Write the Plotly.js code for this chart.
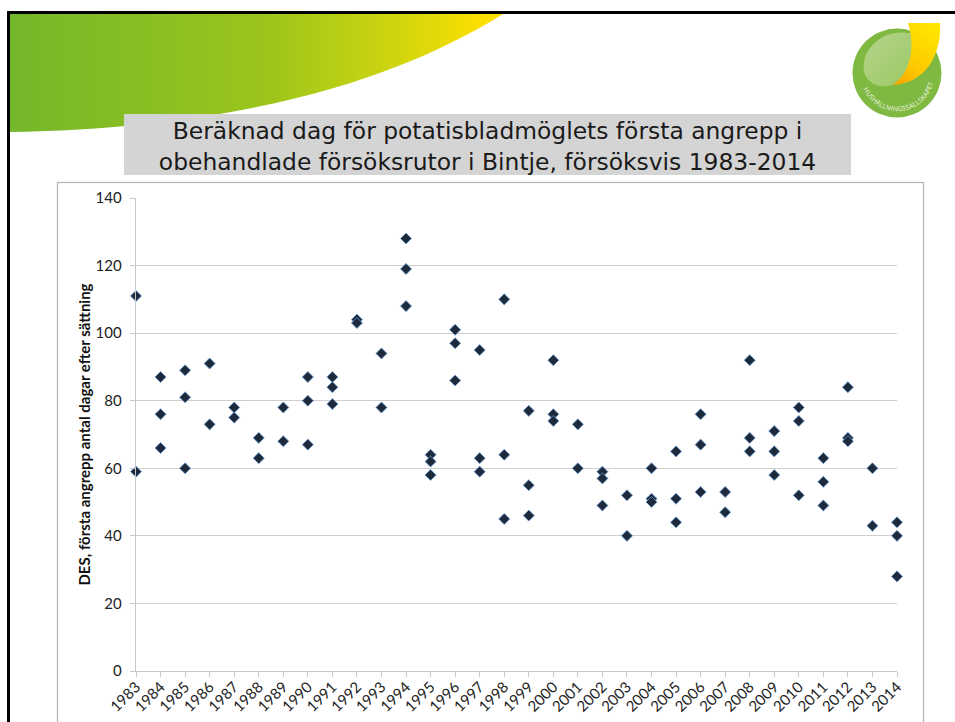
<!DOCTYPE html>
<html lang="sv">
<head>
<meta charset="utf-8">
<script src="https://cdn.plot.ly/plotly-3.0.1.min.js"></script>
<style>
html,body{margin:0;padding:0;background:#fff;width:955px;height:722px;overflow:hidden}
#bg{position:absolute;left:0;top:0}
#chart{position:absolute;left:0;top:0;width:955px;height:722px}
</style>
</head>
<body>
<svg id="bg" width="955" height="722" viewBox="0 0 955 722" xmlns="http://www.w3.org/2000/svg">
  <defs>
    <linearGradient id="sw" gradientUnits="userSpaceOnUse" x1="10" y1="0" x2="480" y2="0">
      <stop offset="0" stop-color="#74b72b"/>
      <stop offset="0.55" stop-color="#9cc51b"/>
      <stop offset="0.82" stop-color="#cfd50f"/>
      <stop offset="1" stop-color="#fbdf00"/>
    </linearGradient>
    <linearGradient id="yl" x1="0.8" y1="0" x2="0.2" y2="1">
      <stop offset="0" stop-color="#ffe600"/>
      <stop offset="0.7" stop-color="#fdc800"/>
      <stop offset="1" stop-color="#f7a800"/>
    </linearGradient>
    <linearGradient id="leaf" x1="0" y1="0" x2="1" y2="1">
      <stop offset="0" stop-color="#b6d48e"/>
      <stop offset="1" stop-color="#9cc862"/>
    </linearGradient>
    <path id="arc" d="M863,88 A37,37 0 0 0 934,79"/>
  </defs>
  <path d="M9,14 L503,14 C410,72 260,128 9,132 Z" fill="url(#sw)"/>
  <rect x="124" y="114" width="727" height="61" fill="#d4d4d4"/>
  <rect x="7" y="11" width="948" height="3" fill="#000"/>
  <rect x="7" y="11" width="3" height="711" fill="#000"/>
  <rect x="57.5" y="182.5" width="866" height="560" fill="none" stroke="#b4b4b4" stroke-width="1.2"/>
  <circle cx="897" cy="73" r="44.5" fill="#7fb941"/>
  <path d="M912,34 C892,28 868,40 864,62 C861,80 876,90 892,85 C908,78 916,52 912,34 Z" fill="url(#leaf)"/>
  <path d="M908,23 L940,23 C942,55 925,84 892,85 C910,75 916,48 908,23 Z" fill="url(#yl)"/>
  <text font-family="Open Sans" font-size="6.6" fill="#f2f7e4"><textPath href="#arc" startOffset="1" textLength="92">HUSHÅLLNINGSSÄLLSKAPET</textPath></text>
</svg>
<div id="chart"></div>
<script>
var years = ["1983","1983","1984","1984","1984","1985","1985","1985","1986","1986","1987","1987","1988","1988","1989","1989","1990","1990","1990","1991","1991","1991","1992","1992","1993","1993","1994","1994","1994","1995","1995","1995","1996","1996","1996","1997","1997","1997","1998","1998","1998","1999","1999","1999","2000","2000","2000","2001","2001","2002","2002","2002","2003","2003","2004","2004","2004","2005","2005","2005","2006","2006","2006","2007","2007","2008","2008","2008","2009","2009","2009","2010","2010","2010","2011","2011","2011","2012","2012","2012","2013","2013","2014","2014","2014"];
var des = [111,59,87,76,66,89,81,60,91,73,78,75,69,63,78,68,87,80,67,87,84,79,104,103,94,78,128,119,108,64,62,58,101,97,86,95,63,59,110,64,45,77,55,46,92,76,74,73,60,59,57,49,52,40,60,51,50,65,51,44,76,67,53,53,47,92,69,65,71,65,58,78,74,52,63,56,49,84,69,68,60,43,44,40,28];
var titleText = "Beräknad dag för potatisbladmöglets första angrepp i<br>obehandlade försöksrutor i Bintje, försöksvis 1983-2014";
var yTitle = "DES, första angrepp antal dagar efter sättning";

Plotly.newPlot("chart", [{
  type: "scatter",
  mode: "markers",
  x: years.map(Number),
  y: des,
  cliponaxis: false,
  marker: {symbol: "diamond", size: 8.5, color: "#1c2a3c", line: {color: "#6b9bd3", width: 0.8}},
  hoverinfo: "x+y"
}], {
  width: 955,
  height: 722,
  margin: {l: 136, r: 58, t: 198, b: 50.5, pad: 0},
  paper_bgcolor: "rgba(0,0,0,0)",
  plot_bgcolor: "rgba(0,0,0,0)",
  showlegend: false,
  title: {
    text: titleText,
    x: 0.5105, xanchor: "center",
    y: 0.807, yref: "container", yanchor: "middle",
    font: {family: "DejaVu Sans", size: 23.4, color: "#1a1a1a"}
  },
  xaxis: {
    type: "linear",
    range: [1983, 2014],
    tick0: 1983, dtick: 1,
    tickangle: -45,
    ticks: "outside", ticklen: 5, tickwidth: 1, tickcolor: "#c8c8c8",
    ticklabelstandoff: -5,
    showgrid: false, zeroline: false,
    showline: true, linecolor: "#c8c8c8", linewidth: 1.4,
    tickfont: {family: "Lato", size: 15, color: "#222"}
  },
  yaxis: {
    range: [0, 140],
    tick0: 0, dtick: 20,
    ticks: "outside", ticklen: 5, tickwidth: 1, tickcolor: "#c8c8c8",
    ticklabelstandoff: 5,
    showgrid: true, gridcolor: "#cfcfcf", gridwidth: 1.2,
    zeroline: false,
    showline: true, linecolor: "#c8c8c8", linewidth: 1.4,
    tickfont: {family: "Lato", size: 15, color: "#222"},
    title: {text: yTitle, font: {family: "Lato", size: 15, color: "#111", weight: 700}, standoff: 1}
  }
}, {displayModeBar: false, staticPlot: true});
</script>
</body>
</html>
